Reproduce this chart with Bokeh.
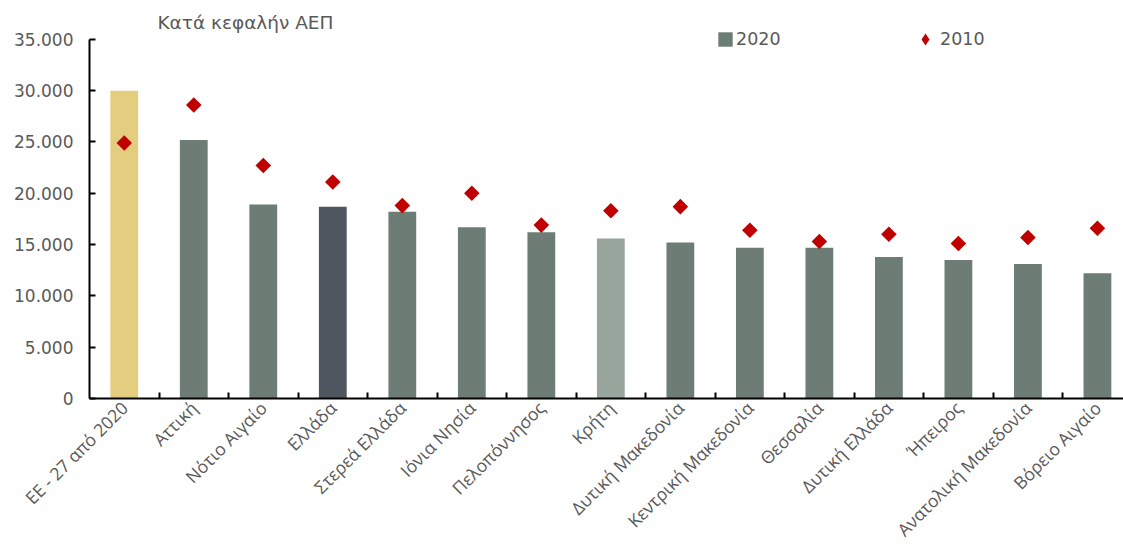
from math import pi
from bokeh.plotting import figure
from bokeh.models import (Range1d, FixedTicker, Legend, LegendItem, Label,
                          ColumnDataSource)
from bokeh.embed import file_html
from bokeh.resources import INLINE

# ---- data ----
regions = ["ΕΕ - 27 από 2020", "Αττική", "Νότιο Αιγαίο", "Ελλάδα", "Στερεά Ελλάδα",
           "Ιόνια Νησία", "Πελοπόννησος", "Κρήτη", "Δυτική Μακεδονία",
           "Κεντρική Μακεδονία", "Θεσσαλία", "Δυτική Ελλάδα", "Ήπειρος",
           "Ανατολική Μακεδονία", "Βόρειο Αιγαίο"]
gdp_2020 = [30000, 25200, 18900, 18700, 18200, 16700, 16200, 15600, 15200,
            14700, 14700, 13800, 13500, 13100, 12200]
gdp_2010 = [24900, 28600, 22700, 21100, 18800, 20000, 16900, 18300, 18700,
            16400, 15300, 16000, 15100, 15700, 16600]
y_ticks = [0, 5000, 10000, 15000, 20000, 25000, 30000, 35000]
y_tick_labels = ["0", "5.000", "10.000", "15.000", "20.000", "25.000", "30.000", "35.000"]
title_text = "Κατά κεφαλήν ΑΕΠ"
series_names = ["2020", "2010"]

# ---- styles ----
TXT = "#595959"
RED = "#C00000"
special = {"ΕΕ - 27 από 2020": "#E4CD7F", "Ελλάδα": "#4F5660", "Κρήτη": "#98A59D"}
bar_colors = [special.get(r, "#6D7D75") for r in regions]

xs = list(range(len(regions)))
src = ColumnDataSource(dict(x=xs, v20=gdp_2020, v10=gdp_2010, color=bar_colors))

p = figure(width=1123, height=552, output_backend="svg", toolbar_location=None,
           x_range=Range1d(-0.5, 14.375), y_range=Range1d(0, 38790),
           min_border_left=89, min_border_right=0, min_border_top=0,
           min_border_bottom=153)
p.outline_line_color = None
p.xgrid.visible = False
p.ygrid.visible = False

bars = p.vbar(x="x", top="v20", width=0.4, fill_color="color", line_color=None, source=src)
dots = p.scatter(x="x", y="v10", marker="square", angle=pi / 4, size=11,
                 fill_color=RED, line_color=None, source=src)
# legend-only glyph (legend markers ignore angle, so use a diamond marker there)
dots_key = p.scatter(x="x", y="v10", marker="diamond", size=14,
                     fill_color=RED, line_color=None, source=src, visible=False)

# y axis
ya = p.yaxis[0]
ya.ticker = FixedTicker(ticks=y_ticks, minor_ticks=[])
ya.major_label_overrides = {t: l for t, l in zip(y_ticks, y_tick_labels)}
ya.bounds = (y_ticks[0], y_ticks[-1])
ya.axis_line_color = "black"
ya.axis_line_width = 2
ya.major_tick_in = 6
ya.major_tick_out = 0
ya.major_tick_line_color = "black"
ya.major_tick_line_width = 2
ya.minor_tick_line_color = None
ya.major_label_standoff = 16
ya.major_label_text_font = "DejaVu Sans"
ya.major_label_text_font_size = "17px"
ya.major_label_text_color = TXT

# x axis
xa = p.xaxis[0]
xa.ticker = FixedTicker(ticks=xs, minor_ticks=[i + 0.5 for i in xs])
xa.major_label_overrides = {i: r for i, r in zip(xs, regions)}
xa.major_label_orientation = pi / 4
xa.axis_line_color = "black"
xa.axis_line_width = 2
xa.major_tick_in = 0
xa.major_tick_out = 0
xa.minor_tick_in = 6
xa.minor_tick_out = 0
xa.minor_tick_line_color = "black"
xa.minor_tick_line_width = 2
xa.major_label_standoff = 6
xa.major_label_text_font = "Open Sans"
xa.major_label_text_font_size = "17.5px"
xa.major_label_text_color = TXT

# title
p.add_layout(Label(x=0.478, y=36650, text=title_text, text_font="DejaVu Sans",
                   text_font_size="18.5px", text_color=TXT, text_baseline="middle"))

# legends
common = dict(orientation="horizontal", padding=0, margin=0,
              label_text_font="DejaVu Sans", label_text_font_size="17.5px",
              label_text_color=TXT, border_line_color=None, background_fill_alpha=0,
              inactive_fill_alpha=0)
leg1 = Legend(items=[LegendItem(label=series_names[0], renderers=[bars], index=1)],
              location=(627, 349), glyph_width=18, glyph_height=18, label_standoff=2,
              **common)
leg2 = Legend(items=[LegendItem(label=series_names[1], renderers=[dots_key], index=1)],
              location=(821, 344), glyph_width=30, glyph_height=30, label_standoff=0,
              **common)
p.add_layout(leg1)
p.add_layout(leg2)

open("out.html", "w").write(file_html(p, INLINE))
